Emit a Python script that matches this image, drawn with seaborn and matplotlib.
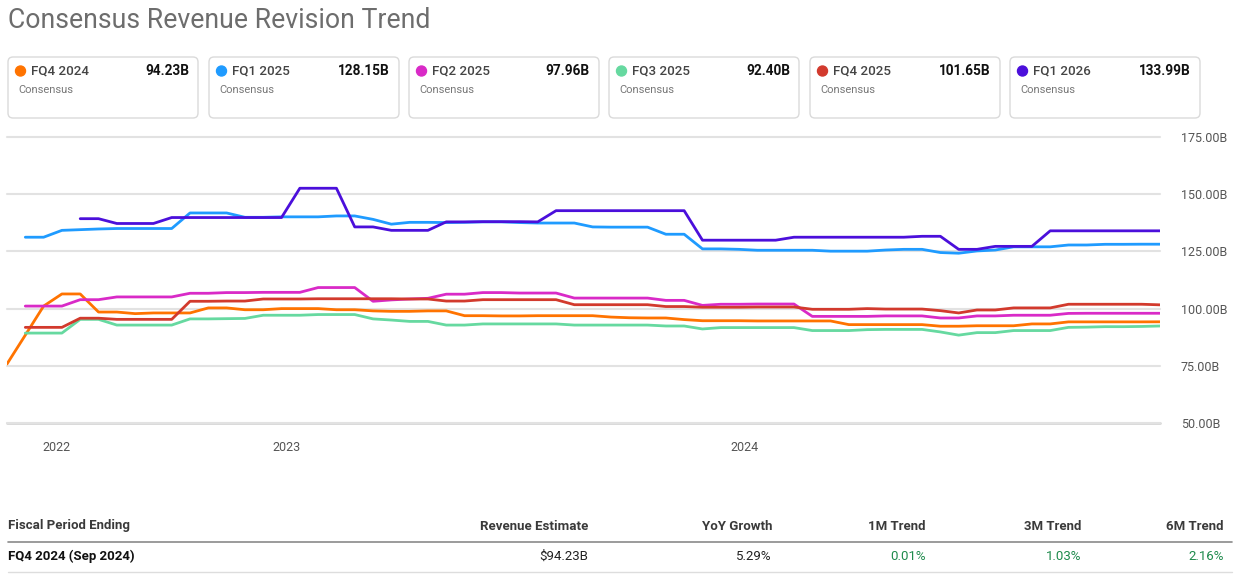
import numpy as np
import pandas as pd
import matplotlib
matplotlib.use("Agg")
import matplotlib.pyplot as plt
import seaborn as sns
from matplotlib.patches import FancyBboxPatch, Circle

nan = np.nan

series_names = ["FQ4 2024", "FQ1 2025", "FQ2 2025", "FQ3 2025", "FQ4 2025", "FQ1 2026"]
series_colors = ["#ff7300", "#1f9bff", "#d92ac7", "#66d9a0", "#d23a2d", "#4b0fdb"]
card_values = ["94.23B", "128.15B", "97.96B", "92.40B", "101.65B", "133.99B"]

fq4_2024 = [75.8, 88.4, 101.1, 106.4, 106.4, 98.5, 98.5, 97.8, 98.1, 98.1, 98.1, 100.3, 100.3, 99.5, 99.5, 100.0, 100.0,
            100.0, 99.5, 99.5, 99.0, 98.8, 98.8, 99.0, 99.0, 96.9, 96.9, 96.8, 96.8, 96.9, 96.9, 96.9, 96.9,
            96.3, 96.0, 95.9, 95.9, 95.2, 94.7, 94.7, 94.7, 94.6, 94.6, 94.6, 94.6, 94.6, 93.0, 93.0,
            93.0, 93.0, 93.0, 92.3, 92.3, 92.5, 92.5, 92.5, 93.3, 93.3, 94.2, 94.2, 94.2, 94.2, 94.2, 94.23]
fq1_2025 = [nan, 131.2, 131.2, 134.2, 134.5, 134.8, 135.0, 135.0, 135.0, 135.0, 141.8, 141.8, 141.8, 139.9, 139.9, 140.1, 140.1,
            140.1, 140.5, 140.5, 139.0, 136.9, 137.7, 137.7, 137.6, 137.7, 137.9, 137.9, 137.6, 137.4, 137.4, 137.4, 135.7,
            135.6, 135.6, 135.6, 132.5, 132.5, 126.1, 126.1, 125.9, 125.5, 125.5, 125.5, 125.5, 125.1, 125.1, 125.1,
            125.6, 125.9, 125.9, 124.5, 124.2, 125.2, 125.6, 127.0, 127.0, 127.0, 127.8, 127.8, 128.1, 128.1, 128.15, 128.15]
fq2_2025 = [nan, 101.1, 101.1, 101.1, 103.9, 103.9, 105.1, 105.1, 105.1, 105.1, 106.7, 106.7, 107.0, 107.0, 107.1, 107.1, 107.1,
            109.2, 109.2, 109.2, 103.2, 103.8, 104.2, 104.5, 106.3, 106.3, 107.0, 107.0, 106.8, 106.8, 106.8, 104.6, 104.6,
            104.6, 104.6, 104.6, 103.6, 103.6, 101.4, 101.9, 101.9, 102.0, 102.0, 102.0, 96.6, 96.6, 96.6, 96.6,
            96.8, 96.8, 96.8, 95.9, 95.9, 96.8, 96.8, 97.1, 97.1, 97.1, 97.9, 97.96, 97.96, 97.96, 97.96, 97.96]
fq3_2025 = [nan, 89.3, 89.3, 89.3, 95.3, 95.3, 92.8, 92.8, 92.8, 92.8, 95.5, 95.5, 95.6, 95.7, 97.1, 97.1, 97.1,
            97.4, 97.4, 97.4, 95.5, 95.0, 94.4, 94.4, 92.8, 92.8, 93.3, 93.3, 93.3, 93.3, 93.3, 92.8, 92.8,
            92.8, 92.8, 92.8, 92.4, 92.4, 91.1, 91.7, 91.7, 91.7, 91.7, 91.7, 90.4, 90.4, 90.4, 90.8,
            90.9, 90.9, 90.9, 89.8, 88.4, 89.5, 89.5, 90.4, 90.4, 90.4, 91.8, 91.9, 92.1, 92.1, 92.2, 92.40]
fq4_2025 = [nan, 91.8, 91.8, 91.8, 95.8, 95.8, 95.3, 95.3, 95.3, 95.3, 103.2, 103.2, 103.3, 103.3, 104.2, 104.2, 104.2,
            104.3, 104.3, 104.3, 104.3, 104.3, 104.2, 104.2, 103.3, 103.3, 103.9, 103.9, 103.9, 103.9, 103.9, 101.7, 101.7,
            101.7, 101.7, 101.7, 100.9, 100.9, 100.6, 100.6, 100.6, 100.7, 100.7, 100.7, 99.7, 99.7, 99.7, 100.0,
            99.8, 99.8, 99.8, 99.1, 98.1, 99.4, 99.4, 100.3, 100.3, 100.3, 101.9, 101.9, 101.9, 101.9, 101.9, 101.65]
fq1_2026 = [nan, nan, nan, nan, 139.3, 139.3, 137.2, 137.2, 137.2, 139.8, 139.8, 139.8, 139.8, 139.8, 139.8, 139.8, 152.6,
            152.6, 152.6, 135.7, 135.7, 134.2, 134.2, 134.2, 137.9, 137.9, 138.0, 138.0, 138.0, 137.9, 142.8, 142.8, 142.8,
            142.8, 142.8, 142.8, 142.8, 142.8, 129.9, 129.9, 129.9, 129.9, 129.9, 131.2, 131.2, 131.2, 131.2, 131.2,
            131.2, 131.2, 131.6, 131.6, 125.9, 125.9, 127.2, 127.2, 127.2, 133.99, 133.99, 133.99, 133.99, 133.99, 133.99, 133.99]

x_tick_pos = [2.68, 15.30, 40.27]
x_tick_labels = ["2022", "2023", "2024"]
y_ticks = [50, 75, 100, 125, 150, 175]

table_headers = ["Fiscal Period Ending", "Revenue Estimate", "YoY Growth", "1M Trend", "3M Trend", "6M Trend"]
table_row = ["FQ4 2024 (Sep 2024)", "$94.23B", "5.29%", "0.01%", "1.03%", "2.16%"]

all_series = [fq4_2024, fq1_2025, fq2_2025, fq3_2025, fq4_2025, fq1_2026]
frames = []
for name, vals in zip(series_names, all_series):
    frames.append(pd.DataFrame({"idx": np.arange(len(vals)), "value": vals, "series": name}))
df = pd.concat(frames, ignore_index=True).dropna()

sns.set_theme(style="white")
plt.rcParams['font.family'] = ['Roboto', 'DejaVu Sans']

W, H = 1240, 574
fig = plt.figure(figsize=(W / 100, H / 100), dpi=100)
fig.patch.set_facecolor("white")

ov = fig.add_axes([0, 0, 1, 1])
ov.set_xlim(0, W)
ov.set_ylim(H, 0)
ov.axis("off")

# title
ov.text(8, 20, "Consensus Revenue Revision Trend", fontsize=19.2, color="#6d6d6d", va="center", ha="left")

# cards
card_x = [8, 209, 409, 609, 810, 1010]
for x0, name, col, val in zip(card_x, series_names, series_colors, card_values):
    ov.add_patch(FancyBboxPatch((x0, 57), 190, 61, boxstyle="round,pad=0,rounding_size=5",
                                ec="#dadada", fc="white", lw=1))
    ov.add_patch(Circle((x0 + 12.5, 71), 5, color=col))
    ov.text(x0 + 23, 71, name, fontsize=9.6, fontweight="medium", color="#444444", va="center", ha="left")
    ov.text(x0 + 181, 71, val, fontsize=9.8, fontweight="bold", color="#111111", va="center", ha="right")
    ov.text(x0 + 10, 90, "Consensus", fontsize=8, color="#777777", va="center", ha="left")

# table
col_x = [8, 588, 772, 926, 1081, 1224]
for i, (cx, h) in enumerate(zip(col_x, table_headers)):
    ov.text(cx, 526, h, fontsize=9.5, fontweight="bold", color="#3a3a3a", va="center",
            ha="left" if i == 0 else "right")
ov.plot([8, 1232], [542, 542], color="#8a8a8a", lw=1.2)
row_colors = ["#111111", "#222222", "#222222", "#1e8a4c", "#1e8a4c", "#1e8a4c"]
for i, (cx, t, c) in enumerate(zip(col_x, table_row, row_colors)):
    ov.text(cx, 556, t, fontsize=9.5, fontweight="bold" if i == 0 else "normal", color=c, va="center",
            ha="left" if i == 0 else "right")
ov.plot([8, 1232], [572, 572], color="#dddddd", lw=1)

# main chart
ax = fig.add_axes([7 / W, 1 - 423 / H, 1153 / W, 286 / H])
ax.set_facecolor("none")
sns.lineplot(data=df, x="idx", y="value", hue="series", hue_order=series_names,
             palette=dict(zip(series_names, series_colors)), estimator=None, sort=False,
             linewidth=2.0, legend=False, ax=ax)
ax.set_xlim(0, 63)
ax.set_ylim(50, 175)
for s in ax.spines.values():
    s.set_visible(False)
ax.set_yticks(y_ticks)
ax.set_yticklabels([f"{v:.2f}B" for v in y_ticks])
ax.yaxis.tick_right()
ax.tick_params(axis="y", length=0, pad=15, labelsize=9, labelcolor="#555555")
ax.set_xticks(x_tick_pos)
ax.set_xticklabels(x_tick_labels)
ax.tick_params(axis="x", length=8, width=1, color="#c8c8c8", labelsize=9, labelcolor="#555555", pad=5)
ax.grid(axis="y", color="#e2e2e2", lw=1.5)
ax.grid(axis="x", visible=False)
for gl in ax.get_ygridlines():
    gl.set_clip_on(False)
ax.axhline(50, color="#d6d6d6", lw=2, clip_on=False, zorder=0.5)
ax.set_axisbelow(True)
ax.set_xlabel("")
ax.set_ylabel("")

fig.savefig("out.png", dpi=100, facecolor="white")
